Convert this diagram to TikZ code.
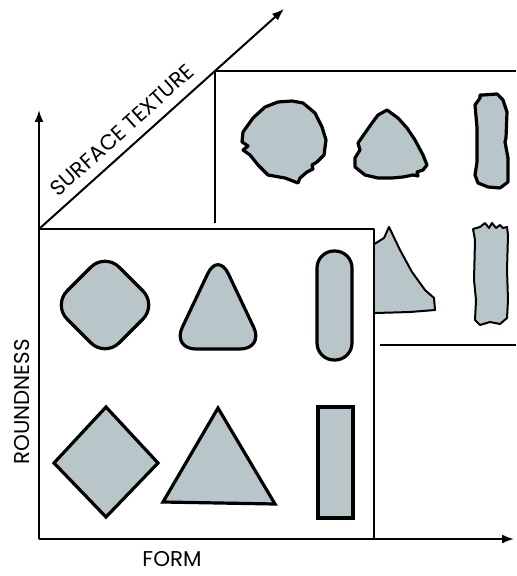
\documentclass[tikz,border=0pt]{standalone}
\usepackage{fontspec}
\setmainfont{Poppins}
\usepackage{tikz}
\usetikzlibrary{arrows.meta}
\definecolor{grain}{RGB}{184,197,201}

\begin{document}
\begin{tikzpicture}[x=0.5pt, y=-0.5pt, line join=round,
  frame/.style={line width=1.1pt},
  axis/.style={line width=1pt, -{Latex[length=6pt,width=4.5pt]}},
  grainthick/.style={fill=grain, draw=black, line width=1.6pt},
  grainthin/.style={fill=grain, draw=black, line width=1pt},
  axislabel/.style={font=\fontsize{10.7}{12}\selectfont, inner sep=0pt}]
  \useasboundingbox (0,0) rectangle (516,576);

  % ---------------- back box (rough surface) ----------------
  \coordinate (backcorner) at (215,71);
  \draw[frame] (215,223) -- (backcorner) -- (516,71);
  \draw[frame] (380,345) -- (516,345);
  \draw[grainthick] (243,132) -- (253,118) -- (265,107) -- (278,102) -- (292,101)
    -- (303,103) -- (315,113) -- (322,127) -- (326,140) -- (324,155) -- (317,162)
    -- (312,165) -- (313,169) -- (307,172) -- (300,178) -- (298,183) -- (285,178)
    -- (268,175) -- (258,165) -- (250,155) -- (243,150) -- (248,146) -- (242,142) -- cycle;
  \draw[grainthick] (387,110) -- (398,118) -- (407,128) -- (415,140) -- (423,155)
    -- (427,165) -- (423,170) -- (417,172) -- (418,176) -- (413,175) -- (403,177)
    -- (392,178) -- (378,178) -- (365,175) -- (355,167) -- (355,158) -- (360,150)
    -- (358,143) -- (365,133) -- (372,123) -- (378,115) -- cycle;
  \draw[grainthick] (480,98) -- (480,95) -- (483,95) -- (497,94) -- (503,100)
    -- (507,112) -- (506,138) -- (505,142) -- (508,158) -- (508,182) -- (500,188)
    -- (488,187) -- (478,183) -- (475,175) -- (477,162) -- (477,128) -- (475,105) -- cycle;
  \draw[grainthin] (360,252) -- (376,243) -- (384,238) -- (389,227) -- (400,250)
    -- (412,272) -- (425,290) -- (434,298) -- (435,310) -- (410,312) -- (376,313)
    -- (360,313) -- cycle;
  \draw[grainthin] (473,229) -- (480,227) -- (485,223) -- (489,228) -- (492,223)
    -- (496,228) -- (500,225) -- (503,228) -- (507,227) -- (508,235) -- (507,270)
    -- (508,300) -- (507,318) -- (500,324) -- (490,322) -- (480,325) -- (475,320)
    -- (476,300) -- (474,280) -- (475,240) -- cycle;

  % ---------------- front box (smooth surface) ----------------
  \coordinate (origin) at (39,539);
  \coordinate (topcorner) at (39,229);
  \fill[white] (topcorner) rectangle (374,539);
  \draw[frame] (origin) -- (topcorner) -- (374,229) -- (374,539);
  \draw[grainthick, rounded corners=10pt] (105,253) -- (157,305) -- (105,357) -- (53,305) -- cycle;
  \draw[grainthick, rounded corners=12pt] (218,252) -- (264,349) -- (172,349) -- cycle;
  \draw[grainthick, rounded corners=8.5pt] (317,251) rectangle (352,360);
  \draw[grainthick, line join=miter] (106,407) -- (158,463) -- (106,517) -- (54,463) -- cycle;
  \draw[grainthick, line join=miter] (218,408) -- (275,504) -- (163,502) -- cycle;
  \draw[grainthick, line join=miter] (318,407) rectangle (353,518);

  % ---------------- axes ----------------
  \coordinate (formend) at (514,539);
  \coordinate (roundend) at (39,110);
  \coordinate (textureend) at (284,9);
  \draw[axis] (origin) -- (roundend);
  \draw[axis] (origin) -- (formend);
  \draw[axis] (topcorner) -- (textureend);

  \node[axislabel] (form) at (172,559) {FORM};
  \node[axislabel, rotate=90] (roundness) at (22,402) {ROUNDNESS};
  \node[axislabel, rotate=42] (texture) at (122,130) {SURFACE TEXTURE};
\end{tikzpicture}
\end{document}
